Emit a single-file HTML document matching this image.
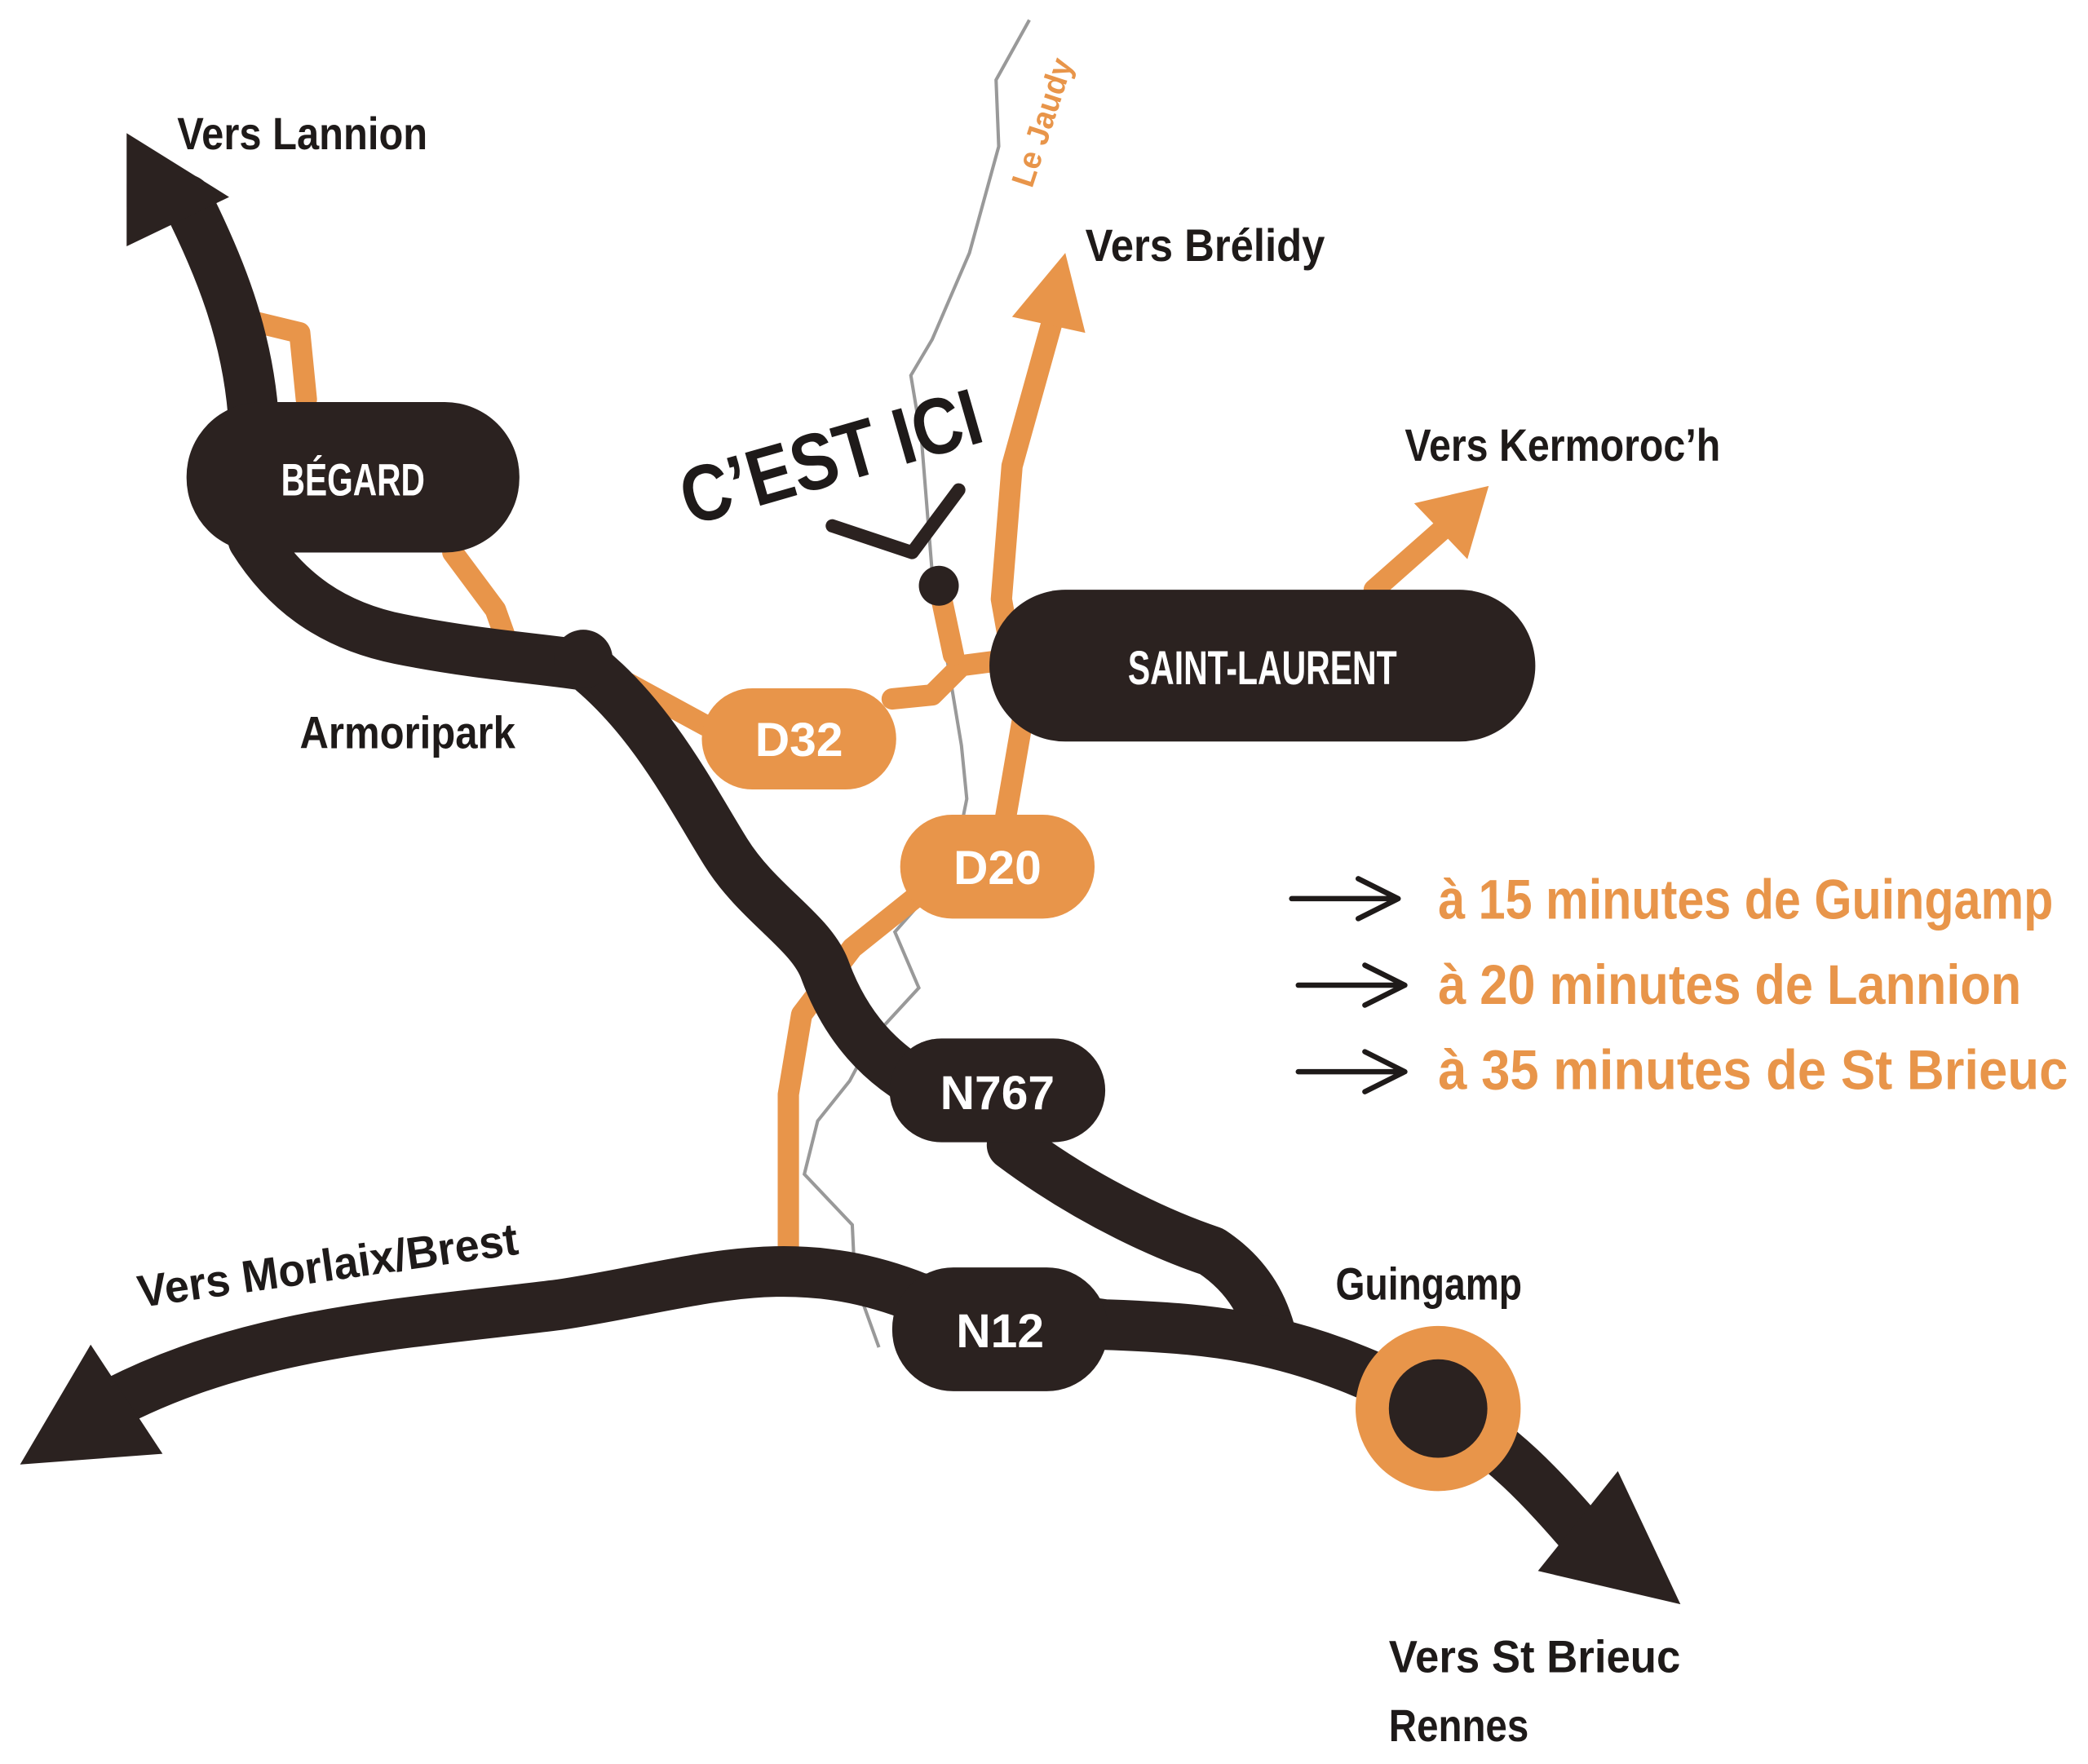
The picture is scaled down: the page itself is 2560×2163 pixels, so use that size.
<!DOCTYPE html>
<html><head><meta charset="utf-8"><style>
html,body{margin:0;padding:0;background:#fff;}
svg{display:block;}
text{font-family:"Liberation Sans",sans-serif;font-weight:bold;}
</style></head><body>
<svg width="2560" height="2163" viewBox="0 0 1568 1325" xmlns="http://www.w3.org/2000/svg">
<rect width="1568" height="1325" fill="#fff"/>
<!-- river -->
<path d="M773,15 L748,60 L750,110 L728,190 L700,255 L684,282 L692,330 L700,430 L712,500 L722,560 L726,600 L716,650 L672,700 L690,742 L655,780 L638,812 L614,842 L604,882 L640,920 L642,962 L660,1012" fill="none" stroke="#999" stroke-width="2.5"/>
<text transform="translate(775,142) rotate(-72)" font-size="24" fill="#e8954a" textLength="100" lengthAdjust="spacingAndGlyphs">Le Jaudy</text>
<!-- orange roads -->
<g fill="none" stroke="#e8954a" stroke-width="16" stroke-linejoin="round" stroke-linecap="round">
<path d="M192,242 L225,250 L230,300"/>
<path d="M340,415 L372,458 L382,486 L438,490"/>
<path d="M438,495 L530,545"/>
<path d="M670,525 L700,522 L722,500 L745,497"/>
<path d="M705,440 L716,492"/>
<path d="M755,615 L768,540 L752,450 L760,350 L792,235"/>
<path d="M1032,443 L1092,390"/>
<path d="M690,672 L640,712 L602,762 L592,822 L592,945"/>
</g>
<polygon points="800,190 760,238 815,250" fill="#e8954a"/>
<polygon points="1118,365 1062,378 1102,420" fill="#e8954a"/>
<!-- dark roads -->
<g fill="none" stroke="#2b2220" stroke-width="38" stroke-linejoin="round" stroke-linecap="round">
<path d="M140,150 C165,200 185,250 190,310"/>
<path d="M190,405 C215,445 250,470 300,480 C360,492 410,495 440,500 C490,540 520,600 545,640 C570,680 610,700 620,730 C635,770 660,800 700,820"/>
<path d="M760,860 C820,905 880,930 910,940 C940,960 950,985 955,1005"/>
<path d="M70,1062 C180,1000 300,995 420,980 C520,965 590,935 690,975 L830,995 C920,998 980,1005 1080,1058 C1130,1085 1160,1120 1195,1160"/>
</g>
<polygon points="95,100 172,148 95,185" fill="#2b2220"/>
<polygon points="15,1100 68,1010 122,1092" fill="#2b2220"/>
<polygon points="1215,1105 1262,1205 1155,1180" fill="#2b2220"/>
<!-- nodes -->
<rect x="140" y="302" width="250" height="113" rx="56" fill="#2b2220"/>
<text x="265" y="372" font-size="34" fill="#fff" text-anchor="middle" textLength="108" lengthAdjust="spacingAndGlyphs">BÉGARD</text>
<rect x="743" y="443" width="410" height="114" rx="57" fill="#2b2220"/>
<text x="948" y="514" font-size="36" fill="#fff" text-anchor="middle" textLength="202" lengthAdjust="spacingAndGlyphs">SAINT-LAURENT</text>
<rect x="527" y="517" width="146" height="76" rx="38" fill="#e8954a"/>
<text x="600" y="568" font-size="36" fill="#fff" text-anchor="middle">D32</text>
<rect x="676" y="612" width="146" height="78" rx="39" fill="#e8954a"/>
<text x="749" y="664" font-size="36" fill="#fff" text-anchor="middle">D20</text>
<rect x="668" y="780" width="162" height="78" rx="39" fill="#2b2220"/>
<text x="749" y="833" font-size="36" fill="#fff" text-anchor="middle">N767</text>
<rect x="670" y="952" width="162" height="93" rx="46" fill="#2b2220"/>
<text x="751" y="1012" font-size="36" fill="#fff" text-anchor="middle">N12</text>
<circle cx="1080" cy="1058" r="62" fill="#e8954a"/>
<circle cx="1080" cy="1058" r="37" fill="#2b2220"/>
<circle cx="438" cy="495" r="22" fill="#2b2220"/>
<circle cx="705" cy="440" r="15" fill="#2b2220"/>
<!-- C'EST ICI -->
<text transform="translate(518,395) rotate(-16)" font-size="60" fill="#1e1a19" textLength="232" lengthAdjust="spacingAndGlyphs">C’EST ICI</text>
<path d="M625,395 L685,415 L720,368" fill="none" stroke="#2b2220" stroke-width="10" stroke-linecap="round" stroke-linejoin="round"/>
<!-- labels -->
<g fill="#1e1a19" font-size="34">
<text x="133" y="112" textLength="188" lengthAdjust="spacingAndGlyphs">Vers Lannion</text>
<text x="815" y="196" textLength="180" lengthAdjust="spacingAndGlyphs">Vers Brélidy</text>
<text x="1055" y="346" textLength="237" lengthAdjust="spacingAndGlyphs">Vers Kermoroc’h</text>
<text x="225" y="562" textLength="162" lengthAdjust="spacingAndGlyphs">Armoripark</text>
<text transform="translate(105,982) rotate(-8)" textLength="288" lengthAdjust="spacingAndGlyphs">Vers Morlaix/Brest</text>
<text x="1003" y="976" textLength="140" lengthAdjust="spacingAndGlyphs">Guingamp</text>
<text x="1043" y="1256" textLength="219" lengthAdjust="spacingAndGlyphs">Vers St Brieuc</text>
<text x="1043" y="1308" textLength="105" lengthAdjust="spacingAndGlyphs">Rennes</text>
</g>
<!-- info -->
<g stroke="#1e1a19" stroke-width="4" fill="none" stroke-linecap="round" stroke-linejoin="round">
<path d="M970,675 L1050,675 M1020,660 L1050,675 L1020,690"/>
<path d="M975,740 L1055,740 M1025,725 L1055,740 L1025,755"/>
<path d="M975,805 L1055,805 M1025,790 L1055,805 L1025,820"/>
</g>
<g fill="#e8954a" font-size="42">
<text x="1080" y="690" textLength="462" lengthAdjust="spacingAndGlyphs">à 15 minutes de Guingamp</text>
<text x="1080" y="754" textLength="438" lengthAdjust="spacingAndGlyphs">à 20 minutes de Lannion</text>
<text x="1080" y="818" textLength="473" lengthAdjust="spacingAndGlyphs">à 35 minutes de St Brieuc</text>
</g>
</svg>
</body></html>
